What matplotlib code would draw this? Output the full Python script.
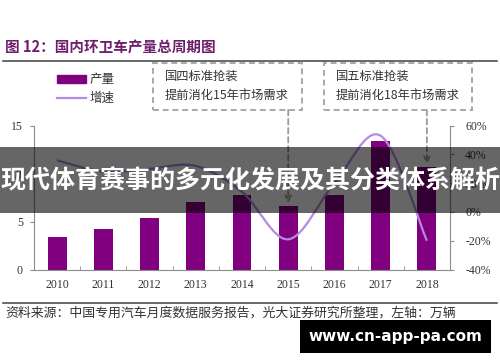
import matplotlib.pyplot as plt
from matplotlib.patches import Rectangle, PathPatch
from matplotlib.lines import Line2D
from matplotlib.path import Path
import numpy as np

plt.rcParams['font.family'] = ['Noto Sans CJK SC', 'DejaVu Sans']

years = ['2010', '2011', '2012', '2013', '2014', '2015', '2016', '2017', '2018']
output = [3.35, 4.2, 5.4, 7.0, 7.8, 6.65, 7.8, 13.4, 10.7]        # 万辆
growth = [0.36, 0.28, 0.30, 0.32, 0.14, -0.19, 0.20, 0.53, -0.20]
left_ticks = [0, 5, 10, 15]
right_ticks = [-0.4, -0.2, 0.0, 0.2, 0.4, 0.6]

title = '图 12：国内环卫车产量总周期图'
source = '资料来源：中国专用汽车月度数据服务报告，光大证券研究所整理，左轴：万辆'
note1 = '国四标准抢装\n提前消化15年市场需求'
note2 = '国五标准抢装\n提前消化18年市场需求'
banner = '现代体育赛事的多元化发展及其分类体系解析'
mark = 'www.cn-app-pa.com'

W, H = 500, 362
BAR = '#800080'
LINE = '#b48ae2'
GRAY = '#8c8c8c'
TXT = '#333333'
SERIF = 'Liberation Serif'


def fx(x):
    return x / W


def fy(y):
    return 1 - y / H


def smooth_path(xs, ys):
    # Catmull-Rom style cubic bezier, like a "smoothed line" in a spreadsheet
    pts = np.column_stack([xs, ys]).astype(float)
    n = len(pts)
    verts = [pts[0]]
    codes = [Path.MOVETO]
    for i in range(n - 1):
        p0 = pts[max(i - 1, 0)]
        p1 = pts[i]
        p2 = pts[i + 1]
        p3 = pts[min(i + 2, n - 1)]
        c1 = p1 + (p2 - p0) / 6
        c2 = p2 - (p3 - p1) / 6
        verts += [c1, c2, p2]
        codes += [Path.CURVE4] * 3
    return Path(verts, codes)


fig = plt.figure(figsize=(5, 3.62), dpi=100)
ax = fig.add_axes([fx(34), fy(269.5), fx(416), (269.5 - 125.7) / H])

x = np.arange(len(years))
ax.bar(x, output, width=0.41, color=BAR, zorder=2, label='产量')
ax.set_xlim(-0.5, len(years) - 0.5)
ax.set_ylim(0, 15)
ax.set_yticks(left_ticks)
ax.set_yticklabels([str(v) for v in left_ticks], fontfamily=SERIF, fontsize=8.5, color=TXT)
ax.set_xticks(x)
ax.set_xticklabels(years, fontfamily=SERIF, fontsize=8.5, color=TXT)
ax.set_xticks(x[:-1] + 0.5, minor=True)
ax.tick_params(axis='x', which='major', length=0, pad=7)
ax.tick_params(axis='x', which='minor', direction='in', length=3, color=GRAY)
ax.tick_params(axis='y', direction='out', length=3, color=GRAY, pad=5)
for s in ['top', 'right']:
    ax.spines[s].set_visible(False)
for s in ['left', 'bottom']:
    ax.spines[s].set_color(GRAY)
    ax.spines[s].set_linewidth(0.8)

ax2 = ax.twinx()
ax2.set_ylim(-0.4, 0.6)
ax2.set_yticks(right_ticks)
ax2.set_yticklabels([f'{round(v * 100)}%' for v in right_ticks],
                    fontfamily=SERIF, fontsize=8.5, color=TXT)
ax2.tick_params(axis='y', direction='out', length=3, color=GRAY, pad=8)
for s in ['top', 'left', 'bottom']:
    ax2.spines[s].set_visible(False)
ax2.spines['right'].set_color(GRAY)
ax2.spines['right'].set_linewidth(0.8)
ax2.add_patch(PathPatch(smooth_path(x, growth), facecolor='none',
                        edgecolor=LINE, lw=1.6, zorder=3))

# legend
handles = [Rectangle((0, 0), 1, 1, color=BAR),
           Line2D([], [], color=LINE, lw=1.6)]
fig.legend(handles, ['产量', '增速'], loc='upper left',
           bbox_to_anchor=(fx(46), fy(62)), frameon=False, fontsize=9,
           handlelength=2.3, handleheight=0.6, handletextpad=0.3,
           labelspacing=0.45, labelcolor=TXT)

# title and rules
fig.text(fx(5), fy(48), title, fontsize=10.5, fontweight='bold',
         color='#6e1f6c', va='center', ha='left')
fig.add_artist(Line2D([fx(3), fx(497)], [fy(61), fy(61)], color='#404040', lw=1.1))
fig.add_artist(Line2D([fx(3), fx(497)], [fy(302.7), fy(302.7)], color='#404040', lw=1.1))
fig.text(fx(5), fy(313), source, fontsize=9.3, color=TXT, va='center', ha='left')

# dashed note boxes with arrows
dash = (0, (3, 2))
for (l, r, txt, idx) in [(153, 302, note1, 5), (324, 472, note2, 8)]:
    fig.add_artist(Rectangle((fx(l), fy(110)), fx(r - l), (110 - 63) / H,
                             fill=False, edgecolor='#a8a8a8', lw=1.4, linestyle=dash))
    fig.text(fx(l + 12), fy(86), txt, fontsize=8.8, color=TXT, va='center',
             ha='left', linespacing=1.55)
    ax.annotate('', xy=(idx, output[idx] + 0.3), xycoords='data',
                xytext=(idx, fy(110)), textcoords=('data', 'figure fraction'),
                arrowprops=dict(arrowstyle='->', color='#9a9a9a', lw=1.3,
                                linestyle=dash, shrinkA=0, shrinkB=0))

# overlay banner
fig.add_artist(Rectangle((0, fy(213)), 1, (213 - 147) / H, facecolor='black',
                         alpha=0.6, edgecolor='none', zorder=10))
fig.text(0.5, fy(181), banner, fontsize=18, fontweight='bold', color='white',
         ha='center', va='center', zorder=11)

# watermark
fig.add_artist(Rectangle((fx(300), fy(352.7)), fx(190.7), (352.7 - 320) / H,
                         facecolor='black', edgecolor='none', zorder=10))
fig.text(fx(395), fy(336.5), mark, fontsize=11, fontweight='bold', color='white',
         ha='center', va='center', family='DejaVu Sans', zorder=11)

fig.savefig('out.png', dpi=100)
